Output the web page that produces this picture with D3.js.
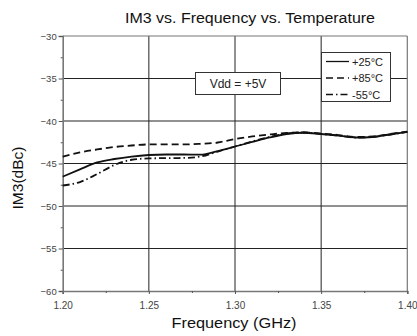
<!DOCTYPE html>
<html><head><meta charset="utf-8">
<script src="https://cdn.jsdelivr.net/npm/d3@7"></script>
<style>body{margin:0;background:#fff}svg{display:block}text{font-family:"Liberation Sans",Arial,sans-serif}</style>
</head><body><svg id="c" width="417" height="336"></svg>
<script>
const freqs = [1.20,1.21,1.22,1.23,1.24,1.25,1.26,1.27,1.28,1.29,1.30,1.31,1.32,1.33,1.34,1.35,1.36,1.37,1.38,1.39,1.40];
const im3_25 = [-46.55,-45.70,-44.88,-44.47,-44.18,-44.00,-43.94,-43.94,-43.96,-43.53,-43.00,-42.47,-41.94,-41.53,-41.38,-41.53,-41.71,-41.94,-41.88,-41.59,-41.29];
const im3_85 = [-44.20,-43.70,-43.35,-43.06,-42.88,-42.76,-42.76,-42.76,-42.68,-42.53,-42.12,-41.82,-41.59,-41.41,-41.35,-41.47,-41.65,-41.88,-41.82,-41.53,-41.24];
const im3_m55 = [-47.59,-47.18,-46.24,-45.18,-44.56,-44.40,-44.37,-44.35,-44.18,-43.59,-43.00,-42.41,-41.88,-41.47,-41.35,-41.53,-41.71,-41.94,-41.88,-41.59,-41.29];
const seriesNames = ["+25\u00B0C","+85\u00B0C","-55\u00B0C"];
const xTicks = [1.20,1.25,1.30,1.35,1.40];
const yTicks = [-30,-35,-40,-45,-50,-55,-60];
const title = "IM3 vs. Frequency vs. Temperature";
const xLabel = "Frequency (GHz)";
const yLabel = "IM3(dBc)";
const note = "Vdd = +5V";

const svg = d3.select("#c");
const L=62.7, R=407.3, T=36, B=291;
const x = d3.scaleLinear().domain([1.2,1.4]).range([L,R]);
const y = d3.scaleLinear().domain([-60,-30]).range([B,T]);

// gridlines
const g = svg.append("g");
g.selectAll(".vg").data(xTicks.slice(1,-1)).join("line")
 .attr("x1",d=>x(d)).attr("x2",d=>x(d)).attr("y1",T).attr("y2",B)
 .attr("stroke","#222").attr("stroke-width",1);
g.selectAll(".hg").data(yTicks.slice(1,-1)).join("line")
 .attr("x1",L).attr("x2",R).attr("y1",d=>y(d)).attr("y2",d=>y(d))
 .attr("stroke","#222").attr("stroke-width",1);

// frame
svg.append("line").attr("x1",L).attr("x2",R).attr("y1",T).attr("y2",T).attr("stroke","#777").attr("stroke-width",1.2);
svg.append("line").attr("x1",R).attr("x2",R).attr("y1",T).attr("y2",B).attr("stroke","#777").attr("stroke-width",1.2);

// axes
const xAxis = d3.axisBottom(x).tickValues(xTicks).tickFormat(d3.format(".2f")).tickSize(3).tickPadding(8);
const ax = svg.append("g").attr("transform",`translate(0,${B})`).call(xAxis);
ax.select(".domain").attr("stroke","#777").attr("stroke-width",1.6);
ax.selectAll(".tick line").attr("stroke","#555");
ax.selectAll("text").attr("font-size",10).attr("fill","#444").attr("font-family","Liberation Sans, Arial, sans-serif");
const axm = svg.append("g").attr("transform",`translate(0,${B})`)
 .call(d3.axisBottom(x).tickValues([1.225,1.275,1.325,1.375]).tickSize(2).tickFormat(""));
axm.select(".domain").remove(); axm.selectAll("line").attr("stroke","#555");

const yAxis = d3.axisLeft(y).tickValues(yTicks).tickFormat(d3.format("d")).tickSize(4).tickPadding(2);
const ay = svg.append("g").attr("transform",`translate(${L},0)`).call(yAxis);
ay.select(".domain").attr("stroke","#777").attr("stroke-width",1.6);
ay.selectAll(".tick line").attr("stroke","#555");
ay.selectAll("text").attr("font-size",9.5).attr("fill","#444").attr("font-family","Liberation Sans, Arial, sans-serif");
const aym = svg.append("g").attr("transform",`translate(${L},0)`)
 .call(d3.axisLeft(y).tickValues([-32.5,-37.5,-42.5,-47.5,-52.5,-57.5]).tickSize(2).tickFormat(""));
aym.select(".domain").remove(); aym.selectAll("line").attr("stroke","#555");

// lines
const line = d3.line().x((d,i)=>x(freqs[i])).y(d=>y(d)).curve(d3.curveMonotoneX);
const dashes = [null,"7,4","7,3,1.5,3"];
[im3_25, im3_85, im3_m55].forEach((s,k)=>{
  svg.append("path").datum(s).attr("d",line).attr("fill","none")
   .attr("stroke","#111").attr("stroke-width",1.8)
   .attr("stroke-dasharray",dashes[k]);
});

// note box
svg.append("rect").attr("x",195.5).attr("y",72.5).attr("width",85).attr("height",22)
 .attr("fill","#fff").attr("stroke","#333").attr("stroke-width",1);
svg.append("text").attr("x",238).attr("y",88).attr("text-anchor","middle")
 .attr("font-size",12).attr("fill","#222").text(note);

// legend
svg.append("rect").attr("x",321.5).attr("y",52.5).attr("width",69).attr("height",49)
 .attr("fill","#fff").attr("stroke","#333").attr("stroke-width",1);
seriesNames.forEach((n,k)=>{
  const yy = 61.5 + k*16.5;
  svg.append("line").attr("x1",326).attr("x2",349).attr("y1",yy).attr("y2",yy)
   .attr("stroke","#111").attr("stroke-width",1.3).attr("stroke-dasharray",dashes[k]);
  svg.append("text").attr("x",352).attr("y",yy+4).attr("font-size",11).attr("fill","#222").text(n);
});

// labels
svg.append("text").attr("x",250).attr("y",23.3).attr("text-anchor","middle")
 .attr("font-size",15.5).attr("textLength",250).attr("lengthAdjust","spacingAndGlyphs")
 .attr("fill","#111").text(title);
svg.append("text").attr("x",234).attr("y",327.5).attr("text-anchor","middle")
 .attr("font-size",14.5).attr("textLength",125).attr("lengthAdjust","spacingAndGlyphs")
 .attr("fill","#111").text(xLabel);
svg.append("text").attr("transform","translate(23,178) rotate(-90)").attr("text-anchor","middle")
 .attr("font-size",14.5).attr("textLength",63).attr("lengthAdjust","spacingAndGlyphs")
 .attr("fill","#111").text(yLabel);
</script></body></html>
